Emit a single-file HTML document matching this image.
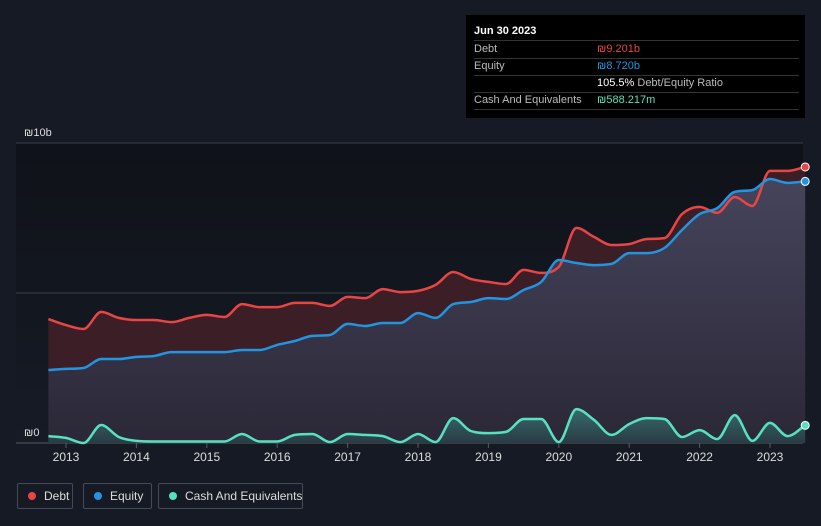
<!DOCTYPE html>
<html><head><meta charset="utf-8"><style>
html,body{margin:0;width:821px;height:526px;overflow:hidden}
body{background:#151a24;font-family:"Liberation Sans",sans-serif;position:relative}
.tt{position:absolute;left:466px;top:15px;width:339px;height:103px;background:#000;color:#fff;font-size:11px}
.row{position:absolute;left:8px;right:6px;height:17px;border-bottom:1px solid #333;line-height:17px;white-space:nowrap}
.row span.l{color:#bbb;position:absolute;left:0}
.row span.v{position:absolute;left:123px}
.leg{position:absolute;top:483px;height:26px;border:1px solid #444b57;border-radius:2px;color:#ddd;font-size:12px;line-height:25px;box-sizing:border-box;white-space:nowrap}
.dot{display:inline-block;width:8px;height:8px;border-radius:50%;margin:0 8px 0 10px}
</style></head><body>
<svg id="chart" width="821" height="526" style="position:absolute;left:0;top:0">
<defs>
<linearGradient id="pbg" x1="0" y1="0" x2="0" y2="1"><stop offset="0" stop-color="#0f1218"/><stop offset="1" stop-color="#161b26"/></linearGradient>
<linearGradient id="eqg" x1="0" y1="0" x2="0" y2="1"><stop offset="0" stop-color="#46465e"/><stop offset="1" stop-color="#2a2838"/></linearGradient>
<linearGradient id="cg" x1="0" y1="0" x2="0" y2="1"><stop offset="0" stop-color="#3a7a78"/><stop offset="1" stop-color="#2a4048"/></linearGradient>
</defs>
<rect x="16" y="143" width="787" height="300" fill="url(#pbg)"/>
<g id="g"></g>
</svg>
<div class="tt">
<div class="row" style="top:8px;font-weight:bold;color:#fff">Jun 30 2023</div>
<div class="row" style="top:26px"><span class="l">Debt</span><span class="v" style="color:#e84545">₪9.201b</span></div>
<div class="row" style="top:43px"><span class="l">Equity</span><span class="v" style="color:#2394df">₪8.720b</span></div>
<div class="row" style="top:60px"><span class="v" style="color:#fff">105.5% <span style="color:#bbb">Debt/Equity Ratio</span></span></div>
<div class="row" style="top:77px"><span class="l">Cash And Equivalents</span><span class="v" style="color:#58e1c1">₪588.217m</span></div>
</div>
<div class="leg" style="left:17px;width:56px"><span class="dot" style="background:#e84545"></span>Debt</div>
<div class="leg" style="left:83px;width:69px"><span class="dot" style="background:#2394df"></span>Equity</div>
<div class="leg" style="left:158px;width:145px"><span class="dot" style="background:#58e1c1"></span>Cash And Equivalents</div>
<script>
const startYear=2012.75;
const debt=[4.13,3.93,3.8,4.37,4.17,4.1,4.1,4.03,4.17,4.27,4.2,4.63,4.53,4.53,4.67,4.67,4.57,4.87,4.83,5.13,5.03,5.07,5.27,5.7,5.47,5.37,5.3,5.77,5.67,5.87,7.17,6.87,6.6,6.63,6.8,6.83,7.63,7.87,7.67,8.2,7.9,9.07,9.07,9.201];
const equity=[2.43,2.47,2.5,2.8,2.8,2.87,2.9,3.03,3.03,3.03,3.03,3.1,3.1,3.27,3.4,3.57,3.6,3.97,3.9,4.0,4.0,4.33,4.17,4.63,4.7,4.83,4.8,5.1,5.37,6.1,6.0,5.93,5.97,6.33,6.33,6.5,7.1,7.63,7.83,8.37,8.43,8.8,8.67,8.72];
const cash=[0.23,0.17,0,0.6,0.2,0.07,0.05,0.05,0.05,0.05,0.05,0.3,0.05,0.05,0.27,0.3,0.03,0.3,0.27,0.23,0.03,0.3,0.03,0.83,0.4,0.33,0.37,0.8,0.8,0.03,1.13,0.77,0.27,0.63,0.83,0.8,0.2,0.43,0.13,0.93,0.07,0.67,0.23,0.588];
const yearTicks=[2013,2014,2015,2016,2017,2018,2019,2020,2021,2022,2023];
const yTicks=[0,5,10];
const X=t=>66+(t-2013)*70.4, Y=v=>443-v*30;
const ns="http://www.w3.org/2000/svg", g=document.getElementById('g');
function mk(tag,a){const e=document.createElementNS(ns,tag);for(const k in a)e.setAttribute(k,a[k]);g.appendChild(e);return e;}
function pts(arr){return arr.map((v,i)=>[X(startYear+i*0.25),Y(v)]);}
function curve(p){
  const n=p.length,d=[],m=[];
  for(let i=0;i<n-1;i++)d.push((p[i+1][1]-p[i][1])/(p[i+1][0]-p[i][0]));
  m[0]=d[0];m[n-1]=d[n-2];
  for(let i=1;i<n-1;i++){m[i]=d[i-1]*d[i]<=0?0:(d[i-1]+d[i])/2;}
  for(let i=0;i<n-1;i++){if(d[i]===0){m[i]=0;m[i+1]=0;continue;}const a=m[i]/d[i],b=m[i+1]/d[i],s=a*a+b*b;if(s>9){const t=3/Math.sqrt(s);m[i]=t*a*d[i];m[i+1]=t*b*d[i];}}
  let s="";
  for(let i=0;i<n-1;i++){const h=(p[i+1][0]-p[i][0])/3;s+=`C${p[i][0]+h},${p[i][1]+m[i]*h} ${p[i+1][0]-h},${p[i+1][1]-m[i+1]*h} ${p[i+1][0]},${p[i+1][1]}`;}
  return s;
}
function line(arr){const p=pts(arr);return "M"+p[0][0]+","+p[0][1]+curve(p);}
function area(arr){const p=pts(arr);return line(arr)+`L${p[p.length-1][0]},443L${p[0][0]},443Z`;}
yTicks.forEach(v=>{const l=mk('line',{x1:16,x2:803,y1:Y(v),y2:Y(v),stroke:v===0?'#555b66':'#3a3f4a','stroke-width':1});
});
let a=mk('path',{d:area(debt),fill:'#3c1f26'});
a=mk('path',{d:area(equity),fill:'url(#eqg)',opacity:0.95});
a=mk('path',{d:area(cash),fill:'url(#cg)',opacity:0.8});
let l=mk('path',{d:line(debt),fill:'none',stroke:'#e84545','stroke-width':2.5});
l=mk('path',{d:line(equity),fill:'none',stroke:'#2394df','stroke-width':2.5});
l=mk('path',{d:line(cash),fill:'none',stroke:'#58e1c1','stroke-width':2.5});
[[debt,'#e84545','debt-end-dot'],[equity,'#2394df','equity-end-dot'],[cash,'#58e1c1','cash-end-dot']].forEach(([arr,c,nm])=>{
 const p=pts(arr);const q=p[p.length-1];const d=mk('circle',{cx:q[0],cy:q[1],r:4,fill:c,stroke:'#fff','stroke-width':1});
 });
yearTicks.forEach(t=>{const tk=mk('line',{x1:X(t),x2:X(t),y1:443,y2:448,stroke:'#555b66'});

const tx=mk('text',{x:X(t),y:461,'text-anchor':'middle',fill:'#ddd','font-size':12,'font-family':'Liberation Sans, sans-serif'});tx.textContent=t;
});
[[10,'₪10b',136],[0,'₪0',436]].forEach(([v,s,y])=>{const tx=mk('text',{x:24,y:y,fill:'#ddd','font-size':11,'font-family':'Liberation Sans, sans-serif'});tx.textContent=s;
});
</script>
</body></html>
